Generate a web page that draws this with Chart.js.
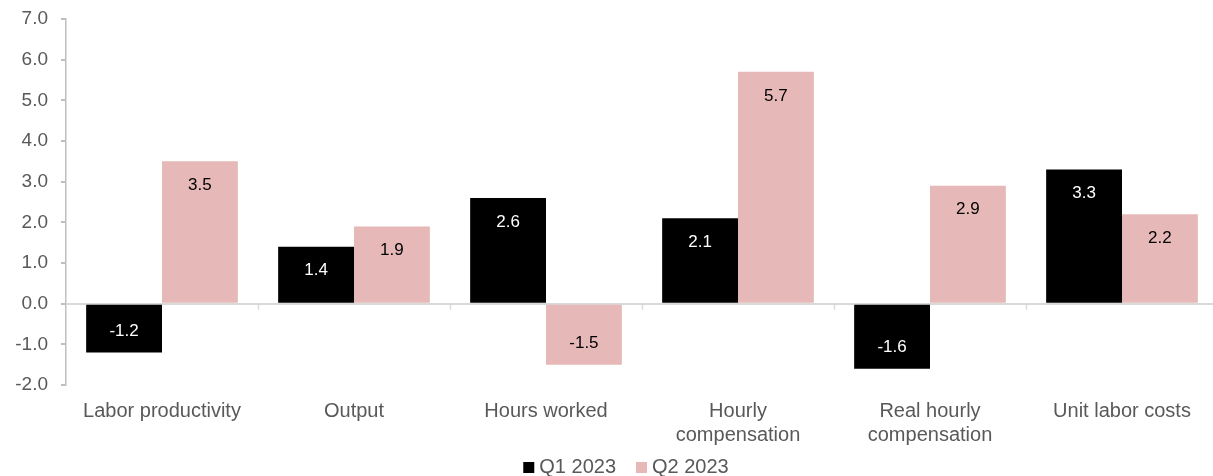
<!DOCTYPE html>
<html>
<head>
<meta charset="utf-8">
<script src="https://cdn.jsdelivr.net/npm/chart.js@4.4.0/dist/chart.umd.min.js"></script>
<style>
  html, body { margin: 0; padding: 0; background: #fff; overflow: hidden; }
  #wrap { width: 1218px; height: 476px; position: relative; }
</style>
</head>
<body>
<div id="wrap"><canvas id="chart"></canvas></div>
<script>
// Productivity and costs, percent change
var categories = ['Labor productivity', 'Output', 'Hours worked', ['Hourly', 'compensation'], ['Real hourly', 'compensation'], 'Unit labor costs'];
var q1Values = [-1.2, 1.4, 2.6, 2.1, -1.6, 3.3];
var q2Values = [3.5, 1.9, -1.5, 5.7, 2.9, 2.2];
var seriesNames = ['Q1 2023', 'Q2 2023'];
var seriesColors = ['#000000', '#e6b8b7'];

var textColor = '#595959';
var fontFamily = "'Liberation Sans', Arial, sans-serif";

// value labels sitting inside the end of each bar
var barLabels = {
    id: 'barLabels',
    afterDatasetsDraw: function (chart) {
        var ctx = chart.ctx;
        ctx.save();
        ctx.font = '17px ' + fontFamily;
        ctx.textAlign = 'center';
        ctx.textBaseline = 'middle';
        chart.data.datasets.forEach(function (ds, i) {
            chart.getDatasetMeta(i).data.forEach(function (bar, j) {
                var v = ds.data[j];
                var y = v >= 0 ? bar.y + 24 : bar.y - 21;
                ctx.fillStyle = i === 0 ? '#ffffff' : '#000000';
                ctx.fillText(v.toFixed(1), bar.x, y);
            });
        });
        ctx.restore();
    }
};

// small tick marks hanging from the zero line between categories
var zeroTicks = {
    id: 'zeroTicks',
    afterDatasetsDraw: function (chart) {
        var x = chart.scales.x, y = chart.scales.y;
        var y0 = y.getPixelForValue(0);
        var step = (x.right - x.left) / categories.length;
        var ctx = chart.ctx;
        ctx.save();
        ctx.strokeStyle = '#d9d9d9';
        ctx.lineWidth = 1.5;
        for (var i = 1; i <= categories.length; i++) {
            var px = Math.round(x.left + step * i) + 0.5;
            ctx.beginPath();
            ctx.moveTo(px, y0);
            ctx.lineTo(px, y0 + 6);
            ctx.stroke();
        }
        ctx.restore();
    }
};

// compact legend along the bottom edge
var bottomLegend = {
    id: 'bottomLegend',
    afterDraw: function (chart) {
        var ctx = chart.ctx;
        var box = 11, boxGap = 5, itemGap = 20;
        var baseline = chart.height - 3;
        ctx.save();
        ctx.font = '20px ' + fontFamily;
        ctx.textBaseline = 'alphabetic';
        var widths = chart.data.datasets.map(function (ds) { return ctx.measureText(ds.label).width; });
        var total = widths.reduce(function (a, w) { return a + box + boxGap + w; }, 0) + itemGap * (widths.length - 1);
        var cx = (chart.chartArea.left + chart.chartArea.right) / 2 - 16;
        var x = cx - total / 2;
        chart.data.datasets.forEach(function (ds, i) {
            ctx.fillStyle = ds.backgroundColor;
            ctx.fillRect(x, baseline - box, box, box);
            x += box + boxGap;
            ctx.fillStyle = textColor;
            ctx.fillText(ds.label, x, baseline);
            x += widths[i] + itemGap;
        });
        ctx.restore();
    }
};

var ctx = document.getElementById('chart').getContext('2d');
var chart = new Chart(ctx, {
    type: 'bar',
    data: {
        labels: categories,
        datasets: [{
            label: seriesNames[0],
            data: q1Values,
            backgroundColor: seriesColors[0],
            barPercentage: 1,
            categoryPercentage: 0.79
        }, {
            label: seriesNames[1],
            data: q2Values,
            backgroundColor: seriesColors[1],
            barPercentage: 1,
            categoryPercentage: 0.79
        }]
    },
    options: {
        responsive: true,
        maintainAspectRatio: false,
        animation: false,
        layout: { padding: { top: 19, right: 0, left: 0, bottom: 25 } },
        plugins: {
            legend: { display: false },
            tooltip: { enabled: false }
        },
        scales: {
            x: {
                afterFit: function (scale) { scale.height = 66; },
                grid: { display: false, drawTicks: false },
                border: { display: false },
                ticks: {
                    color: textColor,
                    padding: 14,
                    maxRotation: 0,
                    font: { size: 20, family: fontFamily, lineHeight: 1.2 }
                }
            },
            y: {
                min: -2,
                max: 7,
                afterFit: function (scale) {
                    scale.width = 66;
                    scale.paddingTop = 0;
                    scale.paddingBottom = 0;
                },
                ticks: {
                    stepSize: 1,
                    padding: 13,
                    color: textColor,
                    font: { size: 19, family: fontFamily },
                    callback: function (v) { return v.toFixed(1); }
                },
                grid: {
                    drawOnChartArea: true,
                    tickLength: 5,
                    tickColor: '#bfbfbf',
                    lineWidth: 2,
                    color: function (c) { return c.tick && c.tick.value === 0 ? '#d9d9d9' : 'rgba(0,0,0,0)'; }
                },
                border: { color: '#bfbfbf', width: 1.5 }
            }
        }
    },
    plugins: [barLabels, zeroTicks, bottomLegend]
});
</script>
</body>
</html>
